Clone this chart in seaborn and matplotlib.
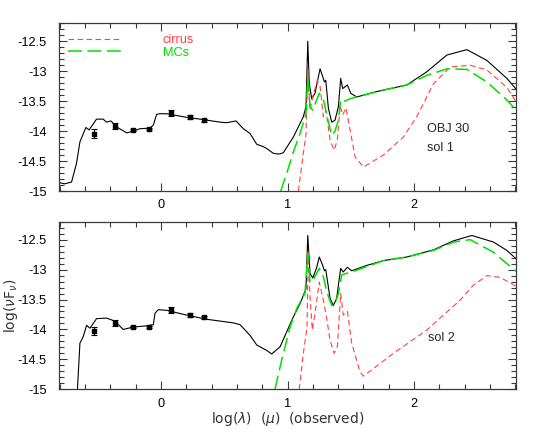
import matplotlib
matplotlib.use("Agg")
import matplotlib.pyplot as plt
from matplotlib.ticker import MultipleLocator, FormatStrFormatter
import seaborn as sns
import pandas as pd

# ---------------- data ----------------
# top panel (sol 1)
top_total_x = [-0.806, -0.76, -0.706, -0.667, -0.64, -0.593, -0.567, -0.509, -0.456, -0.43, -0.395, -0.35,
               -0.27, -0.219, -0.166, -0.087, -0.06, -0.034, -0.008, 0.045, 0.097, 0.203, 0.308, 0.466,
               0.519, 0.593, 0.651, 0.704, 0.757, 0.809, 0.835, 0.888, 0.915, 0.941, 0.967, 1.046, 1.125,
               1.146, 1.160, 1.172, 1.191, 1.217, 1.257, 1.278, 1.291, 1.302, 1.323, 1.349, 1.375, 1.402,
               1.42, 1.436, 1.473, 1.5, 1.547, 1.705, 1.942, 2.1, 2.259, 2.417, 2.575, 2.733, 2.806]
top_total_y = [-14.86, -14.88, -14.85, -14.54, -14.18, -13.94, -13.98, -13.80, -13.80, -13.85, -13.83, -13.93,
               -14.03, -14.0, -13.96, -13.95, -13.9, -13.72, -13.71, -13.71, -13.73, -13.77, -13.80, -13.85,
               -13.86, -13.83, -13.96, -14.04, -14.22, -14.26, -14.29, -14.37, -14.38, -14.38, -14.36, -14.10,
               -13.76, -13.59, -12.50, -13.21, -13.46, -13.37, -12.96, -13.09, -13.18, -13.15, -13.62, -13.85,
               -13.82, -13.59, -13.12, -13.29, -13.23, -13.37, -13.43, -13.34, -13.23, -13.01, -12.73, -12.64,
               -12.82, -13.12, -13.30]
top_mcs_x = [0.946, 0.993, 1.046, 1.099, 1.146, 1.16, 1.178, 1.2, 1.225, 1.251, 1.283, 1.31, 1.349, 1.375,
             1.402, 1.42, 1.44, 1.494, 1.705, 1.942, 2.1, 2.259, 2.417, 2.575, 2.733, 2.806]
top_mcs_y = [-15.0, -14.71, -14.35, -14.04, -13.71, -13.12, -13.59, -13.65, -13.51, -13.37, -13.47, -13.73,
             -14.07, -14.0, -13.82, -13.48, -13.51, -13.46, -13.34, -13.23, -13.07, -12.96, -12.97, -13.18,
             -13.48, -13.65]
top_cir_x = [1.086, 1.125, 1.146, 1.16, 1.178, 1.199, 1.236, 1.257, 1.283, 1.304, 1.336, 1.368, 1.394, 1.415,
             1.436, 1.462, 1.494, 1.534, 1.6, 1.757, 1.915, 2.021, 2.153, 2.285, 2.443, 2.575, 2.733, 2.806]
top_cir_y = [-15.0, -14.37, -14.05, -12.98, -13.65, -13.43, -13.15, -13.25, -13.76, -13.65, -14.15, -14.32,
             -14.15, -13.57, -13.73, -13.61, -13.98, -14.43, -14.6, -14.4, -14.1, -13.76, -13.21, -12.93,
             -12.90, -12.98, -13.27, -13.51]

# bottom panel (sol 2)
bot_total_x = [-0.662, -0.64, -0.614, -0.587, -0.561, -0.509, -0.43, -0.364, -0.298, -0.219, -0.113, -0.06,
               -0.047, -0.021, 0.045, 0.203, 0.361, 0.572, 0.625, 0.704, 0.757, 0.835, 0.875, 0.941, 1.046,
               1.099, 1.146, 1.16, 1.178, 1.2, 1.23, 1.251, 1.278, 1.291, 1.302, 1.336, 1.362, 1.388, 1.42,
               1.44, 1.473, 1.507, 1.626, 1.757, 1.942, 2.153, 2.311, 2.456, 2.627, 2.733, 2.806]
bot_total_y = [-15.1, -14.23, -14.12, -13.93, -13.98, -13.82, -13.81, -13.86, -14.0, -13.96, -13.94, -13.92,
               -13.73, -13.67, -13.68, -13.76, -13.83, -13.89, -13.92, -14.1, -14.26, -14.35, -14.41, -14.29,
               -13.79, -13.57, -13.32, -12.43, -13.07, -13.14, -12.97, -12.79, -12.93, -13.02, -13.0, -13.48,
               -13.6, -13.48, -12.98, -13.04, -12.96, -13.02, -12.93, -12.85, -12.79, -12.67, -12.52, -12.43,
               -12.54, -12.68, -12.82]
bot_mcs_x = [0.901, 0.954, 1.02, 1.073, 1.138, 1.16, 1.178, 1.2, 1.251, 1.283, 1.31, 1.349, 1.375, 1.402,
             1.428, 1.455, 1.507, 1.757, 1.942, 2.153, 2.311, 2.443, 2.627, 2.733, 2.806]
bot_mcs_y = [-15.0, -14.51, -13.96, -13.65, -13.40, -12.73, -13.21, -13.18, -12.98, -13.12, -13.37, -13.6,
             -13.58, -13.40, -13.09, -13.07, -13.04, -12.85, -12.79, -12.68, -12.54, -12.5, -12.71, -12.9, -13.03]
bot_cir_x = [1.093, 1.125, 1.154, 1.164, 1.178, 1.196, 1.217, 1.251, 1.278, 1.304, 1.336, 1.368, 1.394, 1.42,
             1.44, 1.473, 1.507, 1.573, 1.6, 1.836, 2.1, 2.364, 2.469, 2.575, 2.68, 2.806]
bot_cir_y = [-15.0, -14.4, -13.96, -12.71, -13.46, -14.01, -13.74, -13.21, -13.46, -13.74, -14.18, -14.4,
             -14.28, -13.4, -13.76, -13.7, -14.23, -14.71, -14.78, -14.4, -14.01, -13.51, -13.26, -13.1,
             -13.13, -13.28]

# photometry
phot_x = [-0.527, -0.364, -0.224, -0.092, 0.077, 0.229, 0.34]
phot_top_y = [-14.04, -13.92, -13.98, -13.96, -13.69, -13.76, -13.82]
phot_bot_y = [-14.03, -13.89, -13.96, -13.96, -13.68, -13.76, -13.80]
phot_err = [0.07, 0.05, 0.02, 0.02, 0.05, 0.03, 0.03]

panel_labels = [["OBJ 30", "sol 1"], ["sol 2"]]
legend_labels = ["cirrus", "MCs"]

# ---------------- style ----------------
sns.set_style("ticks")
plt.rcParams["font.family"] = ["Liberation Sans", "DejaVu Sans"]
plt.rcParams["axes.unicode_minus"] = False
plt.rcParams["lines.scale_dashes"] = False

RED = "#ff4040"
GREEN = "#00e000"
AXC = "#3a3a3a"
FS = 9.2

fig = plt.figure(figsize=(5.45, 4.36), dpi=100)
ax1 = fig.add_axes([0.1083, 0.5619, 0.8385, 0.3847])
ax2 = fig.add_axes([0.1083, 0.1071, 0.8385, 0.3844])


def draw(ax, tx, ty, mx, my, cx, cy, py):
    sns.lineplot(x=tx, y=ty, ax=ax, color="black", lw=0.8, sort=False, estimator=None)
    sns.lineplot(x=cx, y=cy, ax=ax, color=RED, lw=0.8, sort=False, estimator=None,
                 linestyle=(0, (4, 2.5)), label=legend_labels[0])
    sns.lineplot(x=mx, y=my, ax=ax, color=GREEN, lw=1.1, sort=False, estimator=None,
                 linestyle=(0, (10, 4)), label=legend_labels[1])
    ax.errorbar(phot_x, py, yerr=phot_err, fmt="s", ms=2.2, color="black", ecolor="black",
                elinewidth=0.8, capsize=2, capthick=0.8)
    ax.set_xlim(-0.805, 2.805)
    ax.set_ylim(-15, -12.2)
    ax.xaxis.set_major_locator(MultipleLocator(1))
    ax.xaxis.set_minor_locator(MultipleLocator(0.2))
    ax.yaxis.set_major_locator(MultipleLocator(0.5))
    ax.yaxis.set_minor_locator(MultipleLocator(0.1))
    ax.yaxis.set_major_formatter(FormatStrFormatter("%g"))
    ax.tick_params(which="both", direction="in", top=True, right=True, colors=AXC,
                   labelcolor="black", labelsize=FS)
    ax.tick_params(which="major", length=6, width=0.8)
    ax.tick_params(which="minor", length=3.5, width=0.8)
    ax.tick_params(axis="y", pad=9)
    ax.tick_params(axis="x", pad=6)
    for s in ax.spines.values():
        s.set_color(AXC)
        s.set_linewidth(0.9)
    ax.set_xlabel("")
    ax.set_ylabel("")


draw(ax1, top_total_x, top_total_y, top_mcs_x, top_mcs_y, top_cir_x, top_cir_y, phot_top_y)
draw(ax2, bot_total_x, bot_total_y, bot_mcs_x, bot_mcs_y, bot_cir_x, bot_cir_y, phot_bot_y)

leg = ax1.legend(loc="upper left", bbox_to_anchor=(0.02, 0.935), frameon=False, fontsize=FS,
                 handlelength=4.2, handletextpad=3.2, labelspacing=0.05, borderpad=0,
                 borderaxespad=0, labelcolor="linecolor")
ax2.get_legend().remove()

ax1.text(2.10, -13.97, panel_labels[0][0], fontsize=FS, va="center", ha="left")
ax1.text(2.10, -14.28, panel_labels[0][1], fontsize=FS, va="center", ha="left")
ax2.text(2.11, -14.14, panel_labels[1][0], fontsize=FS, va="center", ha="left")

ax2.set_xlabel(r"log($\lambda$)  ($\mu$)  (observed)", fontsize=10, family="DejaVu Sans",
               color="#333333")
ax2.xaxis.set_label_coords(0.5, -0.125)
ax2.set_ylabel(r"log($\nu$F$_\nu$)", fontsize=10, family="DejaVu Sans", color="#333333")
ax2.yaxis.set_label_coords(-0.085, 0.5)

fig.savefig("out.png", dpi=100)
